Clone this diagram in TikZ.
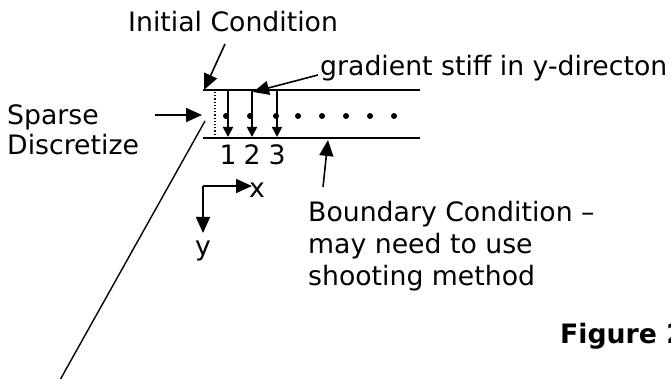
\documentclass[tikz,border=0pt]{standalone}
\usepackage{fontspec}
\setmainfont{DejaVu Sans}
\usetikzlibrary{arrows.meta}
\begin{document}
\begin{tikzpicture}[x=1pt,y=-1pt,
  lbl/.style={inner sep=0pt, anchor=base west, font=\fontsize{26.7}{31.5}\selectfont},
  num/.style={inner sep=0pt, anchor=base, font=\fontsize{26.7}{31.5}\selectfont},
  bigarrow/.style={line width=1.6pt, -{Triangle[length=16pt,width=14pt]}},
  smallarrow/.style={line width=1.6pt, -{Triangle[length=10pt,width=10pt]}},
  wall/.style={line width=1.7pt},
  plain/.style={line width=1.4pt},
  dotmark/.style={circle, fill, inner sep=0pt, minimum size=6pt}]
\useasboundingbox (0,0) rectangle (671,379);

% walls
\coordinate (tl) at (203,90);
\coordinate (tr) at (420,90);
\coordinate (bl) at (203,138);
\coordinate (br) at (420,138);
\draw[wall] (tl) -- (tr);
\draw[wall] (bl) -- (br);

% dotted initial line
\coordinate (d1) at (215,92);
\coordinate (d2) at (215,137);
\draw[line width=1.2pt, dotted] (d1) -- (d2);

% down arrows
\foreach \i/\x in {1/228,2/252,3/277}{
  \coordinate (a\i s) at (\x,91);
  \coordinate (a\i e) at (\x,137);
  \draw[smallarrow] (a\i s) -- (a\i e);
  \node[num] (n\i) at (\x,165) {\i};
}

% dots
\foreach \x [count=\k] in {226,250,276,298,322,346,370,394}{
  \node[dotmark] (dot\k) at (\x,116) {};
}

% Initial condition
\node[lbl] (ic) at (128,32) {Initial Condition};
\coordinate (ics) at (225,44);
\coordinate (ice) at (204,90);
\draw[bigarrow] (ics) -- (ice);

% gradient
\node[lbl] (gr) at (320,76) {gradient stiff in y-directon};
\coordinate (grs) at (318,75);
\coordinate (gre) at (253,92);
\draw[bigarrow] (grs) -- (gre);

% sparse
\node[lbl] (sp1) at (7,125) {Sparse};
\node[lbl] (sp2) at (7,155) {Discretize};
\coordinate (sps) at (155,115);
\coordinate (spe) at (202,115);
\draw[bigarrow] (sps) -- (spe);

% long line
\coordinate (ls) at (205,121);
\coordinate (le) at (60,380);
\draw[plain] (ls) -- (le);

% axes
\coordinate (ax0) at (203,186);
\coordinate (axx) at (252,186);
\coordinate (axy) at (203,233);
\draw[bigarrow] (ax0) -- (axx);
\draw[bigarrow] (ax0) -- (axy);
\node[num] (xl) at (257,198) {x};
\node[num] (yl) at (203,255) {y};

% boundary
\coordinate (bcs) at (323,187);
\coordinate (bce) at (328,140);
\draw[bigarrow] (bcs) -- (bce);
\node[lbl] (bc1) at (308,222) {Boundary Condition –};
\node[lbl] (bc2) at (308,253.5) {may need to use};
\node[lbl] (bc3) at (308,285) {shooting method};

% figure label
\node[lbl, font=\fontsize{26.7}{31.5}\selectfont\bfseries] (fig) at (560,343) {Figure 2};
\end{tikzpicture}
\end{document}
